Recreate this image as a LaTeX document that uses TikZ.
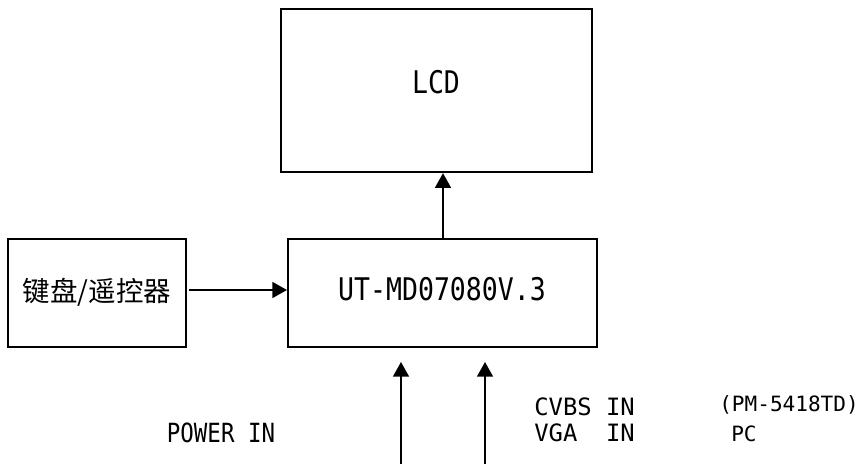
\documentclass[tikz,border=0pt]{standalone}
\usepackage{fontspec}
\usetikzlibrary{arrows.meta}
\newfontfamily\monoA[FakeStretch=0.85]{DejaVu Sans Mono}
\newfontfamily\monoB{DejaVu Sans Mono}
\newfontfamily\cjkfont{Noto Sans CJK SC}
\begin{document}
\begin{tikzpicture}[x=0.75pt,y=-0.75pt,
  box/.style={draw,line width=1.5pt,inner sep=0pt,anchor=center},
  lbl/.style={inner sep=0pt},
  arr/.style={line width=1.1pt,-{Triangle[width=12pt,length=11pt]}}]
\useasboundingbox (0,0) rectangle (867,464);
% boxes
\node[box,minimum width=233.25pt,minimum height=122.25pt] (lcd) at (436,90.7) {};
\node[box,minimum width=231.75pt,minimum height=81pt] (ut) at (442.5,293) {};
\node[box,minimum width=133.5pt,minimum height=81pt] (kb) at (97,293) {};
% texts
\node[lbl,anchor=base] (lcdt) at (436,93.3) {\monoA\fontsize{23.4pt}{26pt}\selectfont LCD};
\node[lbl,anchor=base] (utt) at (442,300) {\monoA\fontsize{23.4pt}{26pt}\selectfont UT-MD07080V.3};
\node[lbl,anchor=base] (kbt) at (97,301) {\cjkfont\fontsize{20.6pt}{24pt}\selectfont 键盘/遥控器};
\node[lbl,anchor=base west] (pw) at (166.7,442.7) {\monoA\fontsize{19.8pt}{22pt}\selectfont POWER IN};
\node[lbl,anchor=base west] (cv) at (534,415.7) {\monoB\fontsize{17.9pt}{20pt}\selectfont CVBS IN};
\node[lbl,anchor=base west] (vg) at (534,441.7) {\monoB\fontsize{17.9pt}{20pt}\selectfont VGA~~IN};
\node[lbl,anchor=base west] (pm) at (719,411) {\monoB\fontsize{15.8pt}{18pt}\selectfont (PM-5418TD)};
\node[lbl,anchor=base west] (pc) at (731,441) {\monoB\fontsize{15.8pt}{18pt}\selectfont PC};
% connectors
\coordinate (la) at (443,239);
\draw[arr] (la) -- (la |- lcd.south);
\coordinate (ka) at (189,290);
\draw[arr] (ka) -- (ka -| ut.west);
\coordinate (p1) at (401,464);
\coordinate (p1t) at (401,362);
\coordinate (p2) at (485,464);
\coordinate (p2t) at (485,362);
\draw[arr] (p1) -- (p1t);
\draw[arr] (p2) -- (p2t);
\end{tikzpicture}
\end{document}
